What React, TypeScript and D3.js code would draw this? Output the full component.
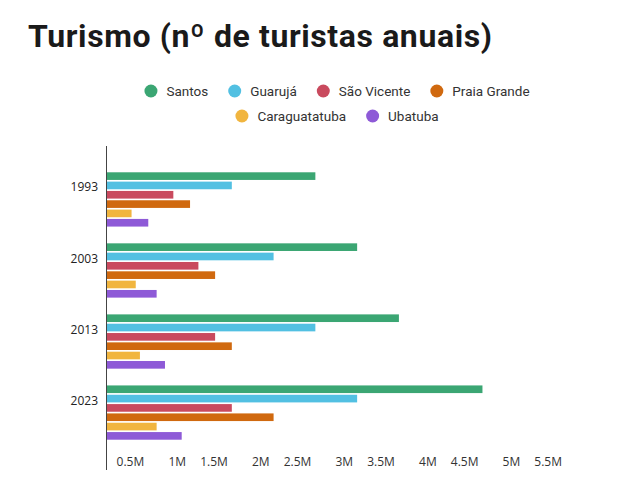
import { useEffect, useRef } from "react";
import * as d3 from "d3";

const years = ["1993", "2003", "2013", "2023"];
const cities = ["Santos", "Guarujá", "São Vicente", "Praia Grande", "Caraguatatuba", "Ubatuba"];
const colors = ["#3ba673", "#52c0e2", "#c94a5e", "#d0690f", "#f1b53f", "#8e5ad7"];

// values in millions of tourists, one array per city (1993, 2003, 2013, 2023)
const santos = [2.5, 3.0, 3.5, 4.5];
const guaruja = [1.5, 2.0, 2.5, 3.0];
const saoVicente = [0.8, 1.1, 1.3, 1.5];
const praiaGrande = [1.0, 1.3, 1.5, 2.0];
const caraguatatuba = [0.3, 0.35, 0.4, 0.6];
const ubatuba = [0.5, 0.6, 0.7, 0.9];

const tickValues = [0.5, 1, 1.5, 2, 2.5, 3, 3.5, 4, 4.5, 5, 5.5];

const series = [santos, guaruja, saoVicente, praiaGrande, caraguatatuba, ubatuba];

export default function App() {
  const svgRef = useRef<SVGSVGElement>(null);

  useEffect(() => {
    document.body.style.margin = "0";
    if (!svgRef.current) return;
    const svg = d3.select(svgRef.current);
    svg.selectAll("*").remove();

    const width = 624;
    const height = 495;
    const left = 106.5;
    const right = 566;

    svg.attr("width", width).attr("height", height);

    // Title
    svg
      .append("text")
      .attr("x", 28)
      .attr("y", 47)
      .attr("font-family", "Roboto, 'Noto Sans', sans-serif")
      .attr("font-weight", "bold")
      .attr("font-size", 32)
      .attr("textLength", 464)
      .attr("lengthAdjust", "spacing")
      .attr("fill", "#1a1a1a")
      .text("Turismo (nº de turistas anuais)");

    // Legend
    const ctx = document.createElement("canvas").getContext("2d")!;
    ctx.font = "13.5px Roboto";
    const rows = [cities.slice(0, 4), cities.slice(4)];
    const legendY = [91, 116];
    const cx = 337;
    rows.forEach((row, ri) => {
      const widths = row.map((c) => 22 + ctx.measureText(c).width);
      const gap = 20;
      const total = d3.sum(widths) + gap * (row.length - 1);
      let x = cx - total / 2;
      row.forEach((c, i) => {
        const idx = cities.indexOf(c);
        const g = svg.append("g").attr("transform", `translate(${x},${legendY[ri]})`);
        g.append("circle").attr("cx", 6.5).attr("cy", 0).attr("r", 6.5).attr("fill", colors[idx]);
        g.append("text")
          .attr("x", 22)
          .attr("y", 0)
          .attr("dy", "0.35em")
          .attr("font-family", "Roboto")
          .attr("font-size", 13.5)
          .attr("fill", "#333")
          .text(c);
        x += widths[i] + gap;
      });
    });

    const x = d3.scaleLinear().domain([0, 5.5]).range([left, right]);

    const y0 = d3
      .scaleBand()
      .domain(years)
      .range([146, 466])
      .paddingInner(0.236)
      .paddingOuter(0.37);

    const y1 = d3
      .scaleBand()
      .domain(cities)
      .range([0, y0.bandwidth()])
      .paddingInner(0.18);

    // Bars
    years.forEach((yr, yi) => {
      const g = svg.append("g").attr("transform", `translate(0,${y0(yr)})`);
      g.selectAll("rect")
        .data(cities)
        .join("rect")
        .attr("x", x(0))
        .attr("y", (c) => y1(c)!)
        .attr("width", (c, ci) => x(series[ci][yi]) - x(0))
        .attr("height", y1.bandwidth())
        .attr("fill", (c, ci) => colors[ci]);

      svg
        .append("text")
        .attr("x", 98)
        .attr("y", y0(yr)! + 15)
        .attr("dy", "0.35em")
        .attr("text-anchor", "end")
        .attr("font-family", "'Open Sans', sans-serif")
        .attr("font-size", 12)
        .attr("fill", "#222")
        .text(yr);
    });

    // Y axis line
    svg
      .append("line")
      .attr("x1", left)
      .attr("x2", left)
      .attr("y1", 146)
      .attr("y2", 470)
      .attr("stroke", "#444")
      .attr("stroke-width", 1);

    // X tick labels
    svg
      .append("g")
      .selectAll("text")
      .data(tickValues)
      .join("text")
      .attr("x", (d) => x(d) - 4)
      .attr("y", 462)
      .attr("dy", "0.35em")
      .attr("text-anchor", "end")
      .attr("font-family", "'Open Sans', sans-serif")
      .attr("font-size", 12)
      .attr("fill", "#333")
      .text((d) => `${d}M`);
  }, []);

  return <svg ref={svgRef} width={624} height={495} style={{ display: "block", background: "#fff" }} />;
}
